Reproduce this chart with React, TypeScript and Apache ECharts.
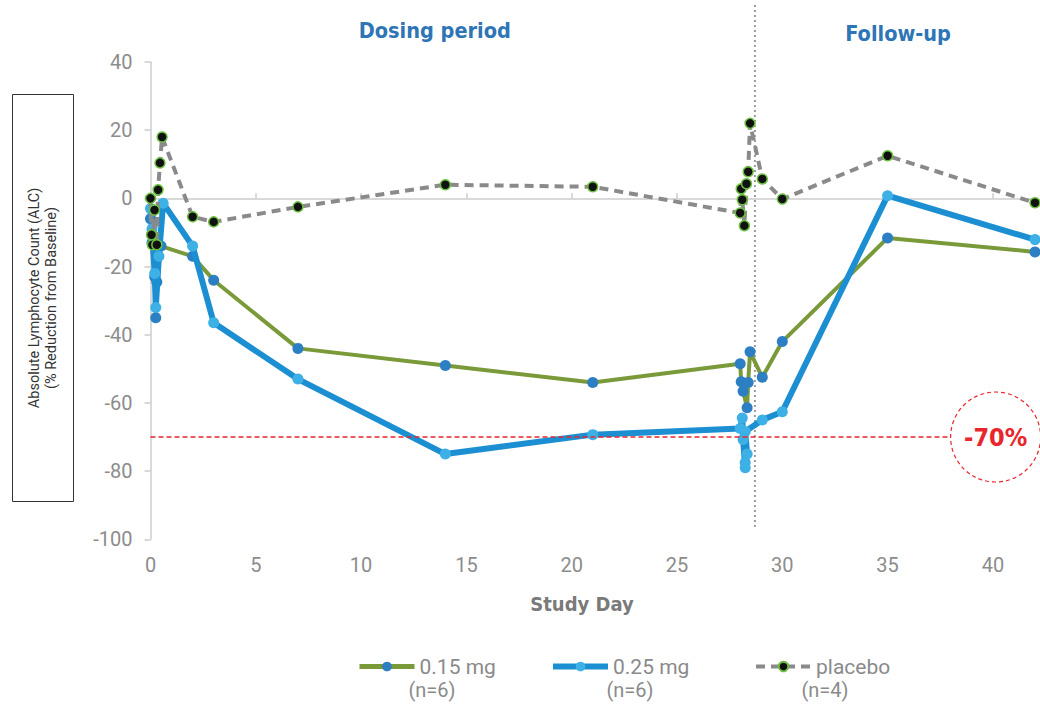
import React, { useEffect, useRef } from "react";
import * as echarts from "echarts";

// ---- data ----
const seriesNames = ["0.15 mg", "0.25 mg", "placebo"];
const seriesCounts = ["(n=6)", "(n=6)", "(n=4)"];

const dose015Days = [0, 0.07, 0.2, 0.25, 0.3, 0.5, 2, 3, 7, 14, 21, 28, 28.05, 28.14, 28.33, 28.38, 28.47, 29.05, 30, 35, 42];
const dose015Pct = [-6, -13, -23, -35, -24.5, -14, -17, -24, -44, -49, -54, -48.5, -53.8, -56.6, -61.4, -54, -45, -52.5, -42, -11.6, -15.7];

const dose025Days = [0, 0.07, 0.2, 0.25, 0.4, 0.6, 2, 3, 7, 14, 21, 28, 28.1, 28.14, 28.24, 28.24, 28.33, 28.24, 29.05, 30, 35, 42];
const dose025Pct = [-3, -9, -22, -32, -17, -1.4, -14, -36.5, -53, -75, -69.3, -67.5, -64.4, -70.7, -79, -77.5, -75, -68.4, -65, -62.6, 0.8, -12.1];

const placeboDays = [0, 0.05, 0.09, 0.19, 0.3, 0.36, 0.45, 0.55, 2, 3, 7, 14, 21, 28, 28.05, 28.1, 28.2, 28.3, 28.38, 28.47, 29.05, 30, 35, 42];
const placeboPct = [0, -10.7, -13.6, -3.4, -13.6, 2.5, 10.4, 18, -5.4, -6.9, -2.5, 4, 3.4, -4.3, 2.8, -0.4, -8, 4.3, 7.8, 22, 5.7, -0.2, 12.5, -1.3];

const xTicks = [0, 5, 10, 15, 20, 25, 30, 35, 40];
const threshold = -70;
const thresholdLabel = "-70%";
const followUpStartDay = 28.7;
const periodLabels = ["Dosing period", "Follow-up"];
const xAxisTitle = "Study Day";
const yAxisTitle = "Absolute Lymphocyte Count (ALC)\n(% Reduction from Baseline)";

const zip = (xs: number[], ys: number[]) => xs.map((x, i) => [x, ys[i]]);

const TICK_FONT = "Roboto, 'Liberation Sans', sans-serif";
const COND_FONT = "'Liberation Sans Narrow', 'DejaVu Sans Condensed', 'Roboto', sans-serif";

export default function App() {
  const ref = useRef<HTMLDivElement>(null);
  useEffect(() => {
    if (!ref.current) return;
    const chart = echarts.init(ref.current, null, { renderer: "svg" });
    const legendCommon = {
      itemWidth: 55,
      itemHeight: 12,
      top: 651,
      selectedMode: false,
      textStyle: { fontSize: 21, color: "#8a8a8a", fontFamily: TICK_FONT },
    };
    const option: any = {
      animation: false,
      backgroundColor: "#fff",
      grid: { left: 150.5, right: 5, top: 62, bottom: 164.7, containLabel: false },
      legend: [
        { ...legendCommon, left: 352, data: [seriesNames[0]], lineStyle: { width: 5 } },
        { ...legendCommon, left: 545, data: [seriesNames[1]], lineStyle: { width: 6 } },
        { ...legendCommon, left: 749, data: [seriesNames[2]], lineStyle: { width: 4, type: [9, 6] } },
      ],
      xAxis: {
        type: "value",
        min: 0,
        max: 42,
        interval: 5,
        splitLine: { show: false },
        axisLine: { show: true, lineStyle: { color: "#cccccc", width: 1.5 } },
        axisTick: { show: true, inside: true, length: 5, customValues: xTicks, lineStyle: { color: "#cccccc", width: 1.5 } },
        axisLabel: { customValues: xTicks, fontSize: 20, color: "#8c8c8c", margin: 16, fontFamily: TICK_FONT },
      },
      yAxis: {
        type: "value",
        min: -100,
        max: 40,
        interval: 20,
        splitLine: { show: false },
        axisLine: { show: true, lineStyle: { color: "#cccccc", width: 1.5 } },
        axisTick: { show: true, length: 6, lineStyle: { color: "#cccccc", width: 1.5 } },
        axisLabel: { fontSize: 20, color: "#8c8c8c", margin: 18, fontFamily: TICK_FONT },
      },
      series: [
        {
          name: seriesNames[0],
          type: "line",
          data: zip(dose015Days, dose015Pct),
          symbol: "circle",
          symbolSize: 11,
          lineStyle: { color: "#7a9a3a", width: 4 },
          itemStyle: { color: "#2b7fc2" },
          z: 2,
          markLine: {
            silent: true,
            symbol: "none",
            label: { show: false },
            lineStyle: { color: "#e8262b", type: [5, 3], width: 1.5 },
            data: [[{ coord: [0, threshold] }, { coord: [37.98, threshold] }]],
          },
        },
        {
          name: seriesNames[1],
          type: "line",
          data: zip(dose025Days, dose025Pct),
          symbol: "circle",
          symbolSize: 11,
          lineStyle: { color: "#1c8fd3", width: 6 },
          itemStyle: { color: "#3db1e6" },
          z: 3,
        },
        {
          name: seriesNames[2],
          type: "line",
          data: zip(placeboDays, placeboPct),
          symbol: "circle",
          symbolSize: 10,
          lineStyle: { color: "#8a8a8a", width: 4, type: [9, 6] },
          itemStyle: { color: "#111111", borderColor: "#6cc040", borderWidth: 1.5 },
          z: 4,
        },
      ],
    };
    chart.setOption(option);

    const vTop = chart.convertToPixel({ xAxisIndex: 0, yAxisIndex: 0 }, [followUpStartDay, -97]) as number[];
    const circ = chart.convertToPixel({ xAxisIndex: 0, yAxisIndex: 0 }, [40.13, threshold]) as number[];
    const dosingCenter = chart.convertToPixel({ xAxisIndex: 0, yAxisIndex: 0 }, [13.5, 0]) as number[];
    const followCenter = chart.convertToPixel({ xAxisIndex: 0, yAxisIndex: 0 }, [35.5, 0]) as number[];

    chart.setOption({
      graphic: [
        {
          type: "line",
          silent: true,
          shape: { x1: vTop[0], y1: 5, x2: vTop[0], y2: vTop[1] },
          style: { stroke: "#9a9a9a", lineWidth: 2, lineDash: [2, 3] },
          z: 1,
        },
        {
          type: "circle",
          shape: { cx: circ[0], cy: circ[1], r: 45 },
          style: { fill: "#ffffff", stroke: "#e8262b", lineWidth: 1.2, lineDash: [4, 3] },
          z: 10,
        },
        {
          type: "text",
          x: circ[0],
          y: circ[1],
          style: {
            text: thresholdLabel,
            fill: "#e8262b",
            fontSize: 25,
            fontWeight: "bold",
            fontFamily: COND_FONT,
            textAlign: "center",
            textVerticalAlign: "middle",
          },
          z: 11,
        },
        {
          type: "text",
          x: dosingCenter[0],
          y: 30,
          style: {
            text: periodLabels[0],
            fill: "#2e75b6",
            fontSize: 21.5,
            fontWeight: "bold",
            fontFamily: COND_FONT,
            textAlign: "center",
            textVerticalAlign: "middle",
          },
        },
        {
          type: "text",
          x: followCenter[0],
          y: 33,
          style: {
            text: periodLabels[1],
            fill: "#2e75b6",
            fontSize: 21.5,
            fontWeight: "bold",
            fontFamily: COND_FONT,
            textAlign: "center",
            textVerticalAlign: "middle",
          },
        },
        {
          type: "text",
          x: 582,
          y: 604,
          style: {
            text: xAxisTitle,
            fill: "#7a7a7a",
            fontSize: 20,
            fontWeight: "bold",
            fontFamily: COND_FONT,
            textAlign: "center",
            textVerticalAlign: "middle",
          },
        },
        {
          type: "rect",
          shape: { x: 12.5, y: 94.5, width: 61, height: 407 },
          style: { fill: "none", stroke: "#333333", lineWidth: 1 },
        },
        {
          type: "text",
          x: 43,
          y: 298,
          rotation: Math.PI / 2,
          style: {
            text: yAxisTitle,
            fill: "#333333",
            fontSize: 14.5,
            lineHeight: 17,
            fontFamily: TICK_FONT,
            textAlign: "center",
            textVerticalAlign: "middle",
          },
        },
        ...[432, 630, 825].map((x, i) => ({
          type: "text",
          x,
          y: 690,
          style: {
            text: seriesCounts[i],
            fill: "#8a8a8a",
            fontSize: 20,
            fontFamily: TICK_FONT,
            textAlign: "center",
            textVerticalAlign: "middle",
          },
        })),
      ],
    });

    return () => chart.dispose();
  }, []);
  return <div ref={ref} style={{ position: "fixed", left: 0, top: 0, width: 1040, height: 704 }} />;
}
